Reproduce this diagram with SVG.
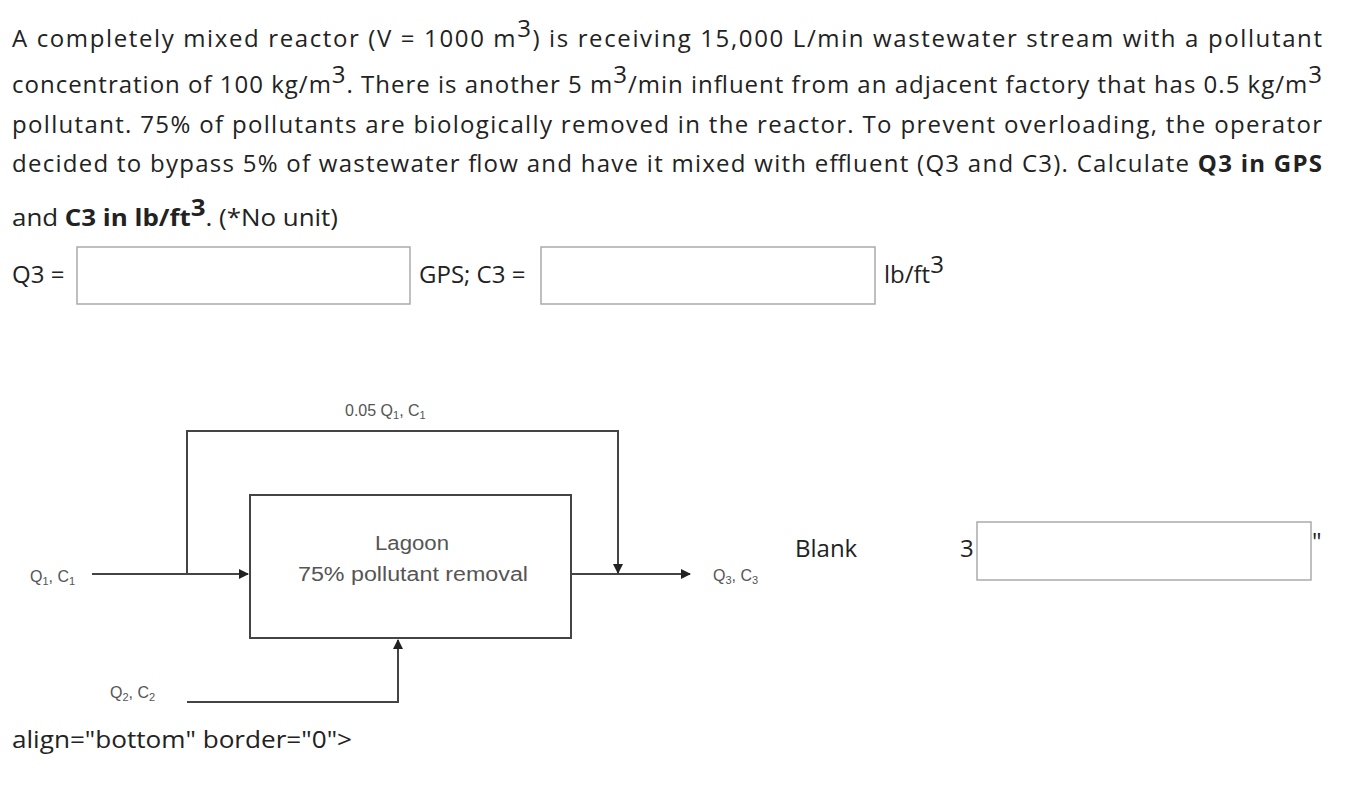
<svg xmlns="http://www.w3.org/2000/svg" width="1364" height="812" viewBox="0 0 1364 812">
<style>
.t{font-family:"Open Sans","Noto Sans",sans-serif;font-size:24px;fill:#222}
.d{font-family:"Liberation Sans",Arial,sans-serif;font-size:20px;fill:#555}
.s{font-family:"Liberation Sans",Arial,sans-serif;font-size:16px;fill:#555}
.ln{stroke:#444;stroke-width:2;fill:none}
.box{fill:#fff;stroke:#aaa;stroke-width:1.5}
</style>
<defs><marker id="a" markerWidth="10" markerHeight="10" refX="9" refY="5" orient="auto" markerUnits="userSpaceOnUse"><path d="M0,0L10,5L0,10Z" fill="#222"/></marker></defs>
<rect width="1364" height="812" fill="#fff"/>
<text class="t" x="12" y="47" textLength="1310" lengthAdjust="spacing">A completely mixed reactor (V = 1000 m<tspan dy="-10">3</tspan><tspan dy="10">) is receiving 15,000 L/min wastewater stream with a pollutant</tspan></text>
<text class="t" x="12" y="93" textLength="1310" lengthAdjust="spacing">concentration of 100 kg/m<tspan dy="-10">3</tspan><tspan dy="10">. There is another 5 m</tspan><tspan dy="-10">3</tspan><tspan dy="10">/min influent from an adjacent factory that has 0.5 kg/m</tspan><tspan dy="-10">3</tspan></text>
<text class="t" x="12" y="133" textLength="1310" lengthAdjust="spacing">pollutant. 75% of pollutants are biologically removed in the reactor. To prevent overloading, the operator</text>
<text class="t" x="12" y="172" textLength="1310" lengthAdjust="spacing">decided to bypass 5% of wastewater flow and have it mixed with effluent (Q3 and C3). Calculate <tspan font-weight="bold">Q3 in GPS</tspan></text>
<text class="t" x="12" y="226" textLength="326" lengthAdjust="spacingAndGlyphs">and <tspan font-weight="bold">C3 in lb/ft<tspan dy="-10">3</tspan></tspan><tspan dy="10">. (*No unit)</tspan></text>
<text class="t" x="12" y="283">Q3 =</text>
<rect class="box" x="77" y="247" width="333" height="57"/>
<text class="t" x="419" y="283">GPS; C3 =</text>
<rect class="box" x="541" y="247" width="334" height="57"/>
<text class="t" x="884" y="283">lb/ft<tspan dy="-10">3</tspan></text>
<g id="connectors">
<path class="ln" d="M92,574H248" marker-end="url(#a)"/>
<path class="ln" d="M187,574V431H618V573" marker-end="url(#a)"/>
<path class="ln" d="M571,574H690" marker-end="url(#a)"/>
<path class="ln" d="M187,702H398V640" marker-end="url(#a)"/>
</g>
<g id="lagoon"><rect x="250" y="495" width="321" height="143" fill="none" stroke="#444" stroke-width="2"/>
<text class="d" x="375" y="550" textLength="74" lengthAdjust="spacingAndGlyphs">Lagoon</text>
<text class="d" x="298" y="581" textLength="230" lengthAdjust="spacingAndGlyphs">75% pollutant removal</text></g>
<text class="s" x="345" y="416">0.05 Q<tspan font-size="11" dy="3">1</tspan><tspan dy="-3">, C</tspan><tspan font-size="11" dy="3">1</tspan></text>
<text class="s" x="30" y="582">Q<tspan font-size="11" dy="3">1</tspan><tspan dy="-3">, C</tspan><tspan font-size="11" dy="3">1</tspan></text>
<text class="s" x="110" y="698">Q<tspan font-size="11" dy="3">2</tspan><tspan dy="-3">, C</tspan><tspan font-size="11" dy="3">2</tspan></text>
<text class="s" x="713" y="581">Q<tspan font-size="11" dy="3">3</tspan><tspan dy="-3">, C</tspan><tspan font-size="11" dy="3">3</tspan></text>
<text class="t" x="795" y="557">Blank</text>
<text class="t" x="960" y="557">3</text>
<rect class="box" x="977" y="522" width="334" height="58"/>
<text class="t" x="1312" y="550" font-size="16">"</text>
<text class="t" x="12" y="748" textLength="340" lengthAdjust="spacingAndGlyphs">align="bottom" border="0"&gt;</text>
</svg>
